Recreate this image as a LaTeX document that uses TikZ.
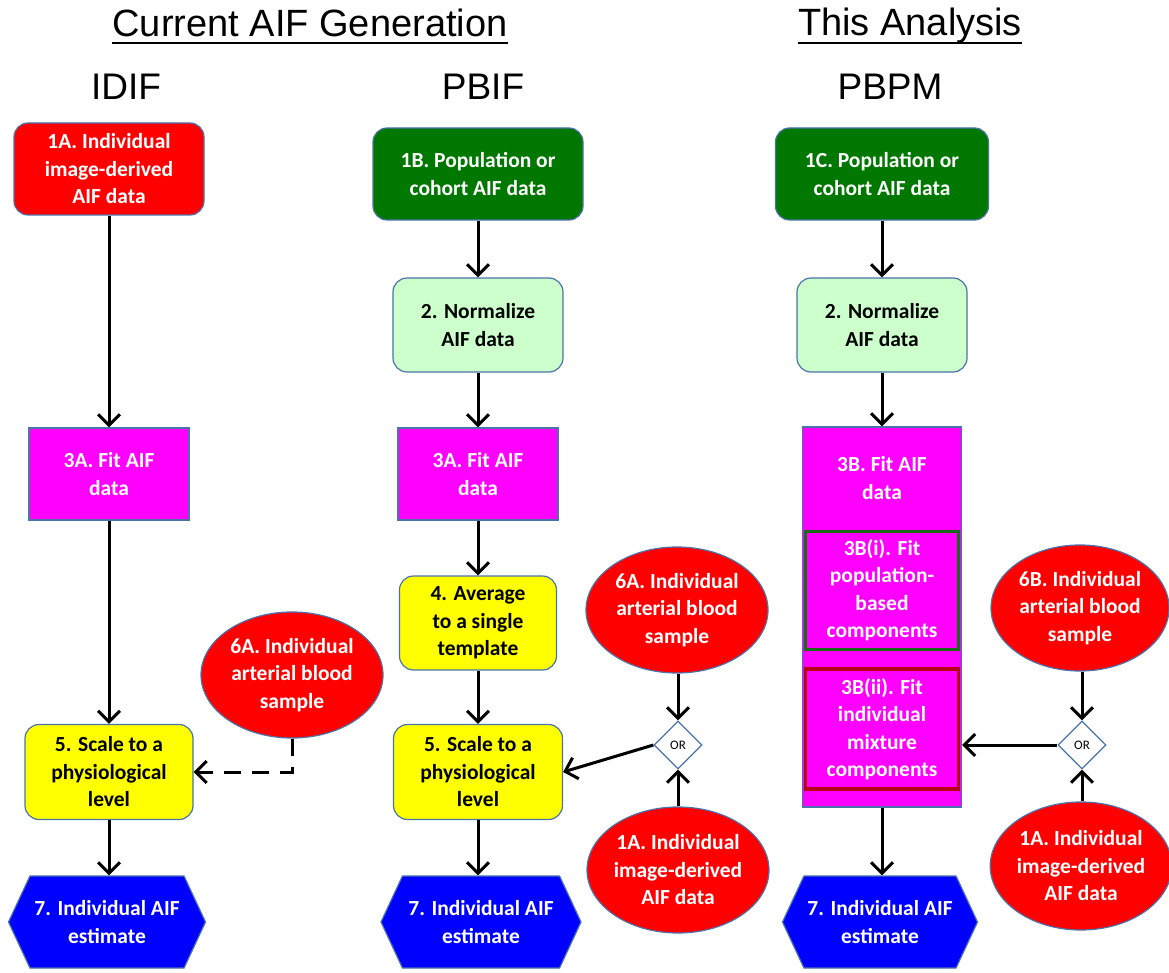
\documentclass[tikz,border=0pt]{standalone}
\usepackage{fontspec}
\setmainfont{Carlito}
\newfontfamily\headfont{Liberation Sans}
\usetikzlibrary{arrows.meta, positioning, shapes.geometric, shapes.symbols}

\definecolor{srcred}{RGB}{255,0,0}
\definecolor{srcgreen}{RGB}{0,120,0}
\definecolor{normgreen}{RGB}{204,255,204}
\definecolor{fitpink}{RGB}{255,0,255}
\definecolor{scaleyel}{RGB}{255,255,0}
\definecolor{estblue}{RGB}{0,0,255}
\definecolor{rimblue}{RGB}{75,115,170}
\definecolor{rimgreen}{RGB}{25,105,25}
\definecolor{rimred}{RGB}{185,0,25}

\begin{document}
\begin{tikzpicture}[
  x=1pt, y=-1pt,
  font=\fontsize{21.5}{27.5}\selectfont\bfseries,
  base/.style={draw=rimblue, line width=1.2pt, align=center, inner sep=2pt},
  srcbox/.style={base, rounded corners=14pt, fill=srcred, text=white,
                 minimum height=92pt},
  popbox/.style={base, rounded corners=14pt, fill=srcgreen, text=white,
                 minimum height=92pt},
  normbox/.style={base, rounded corners=14pt, fill=normgreen,
                  minimum width=170pt, minimum height=94pt},
  fitbox/.style={base, fill=fitpink, text=white, minimum width=160pt,
                 minimum height=92pt},
  scalebox/.style={base, rounded corners=14pt, fill=scaleyel,
                   minimum height=95pt},
  estbox/.style={base, shape=signal, signal to=east and west,
                 signal pointer angle=130, fill=estblue, text=white,
                 minimum width=197pt, minimum height=92pt},
  sample/.style={base, ellipse, fill=srcred, text=white, inner sep=0pt,
                 minimum width=182pt, minimum height=126pt},
  orgate/.style={draw=rimblue, line width=1.2pt, diamond, fill=white,
                 inner sep=0pt, minimum width=48pt, minimum height=48pt,
                 font=\fontsize{13}{13}\selectfont},
  head/.style={font=\headfont\fontsize{38}{44}\selectfont, inner sep=0pt,
               anchor=base},
  group/.style={font=\headfont\fontsize{37}{44}\selectfont, inner sep=0pt,
                anchor=base},
  arr/.style={-{Straight Barb[length=11pt, width=22pt, line width=3pt]},
              line width=3pt},
  dasharr/.style={arr, dash pattern=on 17pt off 11pt}
]
\useasboundingbox (0,0) rectangle (1169,973);

% headings
\node[head] (curgen) at (310,37) {Current AIF Generation};
\node[head] (thisan) at (910,36) {This Analysis};
\draw[line width=2.6pt] ([yshift=-6pt]curgen.base west) -- ([yshift=-6pt]curgen.base east);
\draw[line width=2.6pt] ([yshift=-7pt]thisan.base west) -- ([yshift=-7pt]thisan.base east);
\node[group] (idif) at (126,100) {IDIF};
\node[group] (pbif) at (483,100) {PBIF};
\node[group] (pbpm) at (890,100) {PBPM};

% IDIF column
\node[srcbox, minimum width=190pt] (idA) at (109,169) {1A. Individual\\image-derived\\AIF data};
\node[fitbox] (fitA1) at (109,474) {3A. Fit AIF\\data};
\node[scalebox, minimum width=168pt] (scl1) at (109,772) {5. Scale to a\\physiological\\level};
\node[estbox] (est1) at (107,922) {7. Individual AIF\\estimate};
\node[sample] (bld1) at (292,675) {6A. Individual\\arterial blood\\sample};

\draw[arr] (idA) -- (fitA1);
\draw[arr] (fitA1) -- (scl1);
\draw[arr] (scl1) -- (scl1 |- est1.north);
\draw[dasharr] (bld1.south) |- (scl1.east);

% PBIF column
\node[popbox, minimum width=210pt] (popB) at (478,174) {1B. Population or\\cohort AIF data};
\node[normbox] (norm2) at (478,325) {2. Normalize\\AIF data};
\node[fitbox] (fitA2) at (478,474) {3A. Fit AIF\\data};
\node[scalebox, minimum width=157pt, minimum height=94pt] (avg2) at (478,623) {4. Average\\to a single\\template};
\node[scalebox, minimum width=169pt] (scl2) at (478,772) {5. Scale to a\\physiological\\level};
\node[estbox, minimum width=200pt] (est2) at (481,922) {7. Individual AIF\\estimate};
\node[sample] (bld2) at (677,610) {6A. Individual\\arterial blood\\sample};
\node[orgate] (or2) at (678,745) {OR};
\node[sample] (img2) at (678,870) {1A. Individual\\image-derived\\AIF data};

\draw[arr] (popB) -- (norm2);
\draw[arr] (norm2) -- (fitA2);
\draw[arr] (fitA2) -- (avg2);
\draw[arr] (avg2) -- (scl2);
\draw[arr] (scl2.south) -- (scl2.south |- est2.north);
\draw[arr] (bld2.south -| or2) -- (or2);
\draw[arr] (img2) -- (or2);
\draw[arr] (or2.west) -- (scl2.east);

% PBPM column
\node[popbox, minimum width=213pt] (popC) at (882,174) {1C. Population or\\cohort AIF data};
\node[normbox] (norm3) at (882,325) {2. Normalize\\AIF data};
\node[fitbox, minimum width=159pt, minimum height=380pt] (fitB) at (882,617) {};
\node[text=white, align=center] (fitBtxt) at (882,478) {3B. Fit AIF\\data};
\node[fitbox, draw=rimgreen, line width=3pt, minimum width=153pt,
      minimum height=118pt] (fitBi) at (882,590) {3B(i). Fit\\population-\\based\\components};
\node[fitbox, draw=rimred, line width=3.5pt, minimum width=153pt,
      minimum height=120pt] (fitBii) at (882,729) {3B(ii). Fit\\individual\\mixture\\components};
\node[estbox, minimum width=195pt] (est3) at (880,922) {7. Individual AIF\\estimate};
\node[sample, minimum width=178pt] (bld3) at (1080,608) {6B. Individual\\arterial blood\\sample};
\node[orgate] (or3) at (1082,745) {OR};
\node[sample, minimum width=176pt, minimum height=128pt] (img3) at (1081,866) {1A. Individual\\image-derived\\AIF data};

\draw[arr] (popC) -- (norm3);
\draw[arr] (norm3) -- (fitB);
\draw[arr] (fitB.south) -- (fitB.south |- est3.north);
\draw[arr] (bld3.south -| or3) -- (or3);
\draw[arr] (img3.north -| or3) -- (or3);
\draw[arr] (or3.west) -- (or3.west -| fitB.east);
\end{tikzpicture}
\end{document}
